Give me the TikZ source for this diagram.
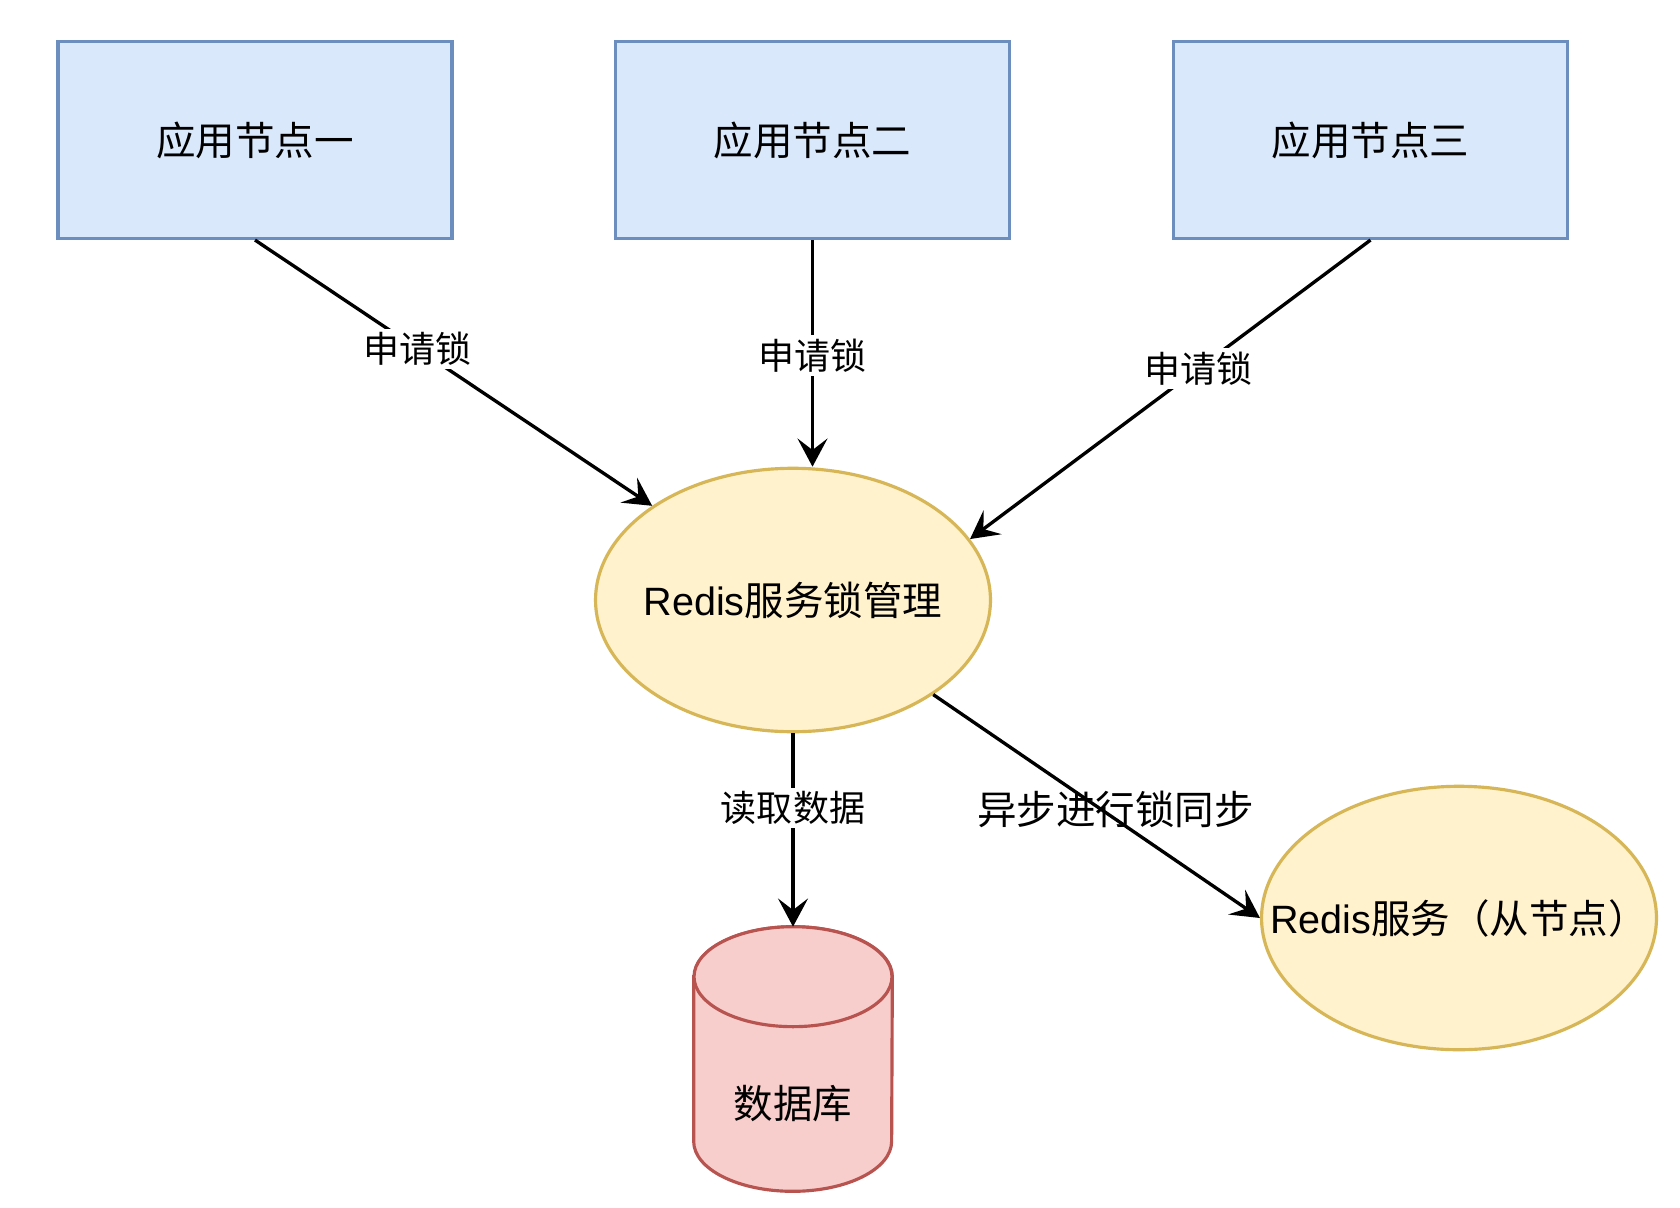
\documentclass[tikz,border=0pt]{standalone}
\usepackage{fontspec}
\setmainfont{Liberation Sans}
\newfontfamily\cjk{Noto Sans CJK SC}
\usetikzlibrary{shapes.geometric,arrows.meta,calc}
\definecolor{boxfill}{HTML}{DAE8FC}
\definecolor{boxblue}{HTML}{6C8EBF}
\definecolor{yfill}{HTML}{FFF2CC}
\definecolor{ystroke}{HTML}{D6B656}
\definecolor{rfill}{HTML}{F8CECC}
\definecolor{rstroke}{HTML}{B85450}
\newcommand\fsbig{\fontsize{22.5}{27}\selectfont}
\newcommand\fssmall{\fontsize{20.5}{24}\selectfont}
\begin{document}
\begin{tikzpicture}[x=0.02cm,y=-0.02cm,
  appbox/.style={draw=boxblue, fill=boxfill, line width=1.8pt, minimum width=7.88cm, minimum height=3.94cm, inner sep=0pt, font=\cjk\fsbig},
  redis/.style={ellipse, draw=ystroke, fill=yfill, line width=1.8pt, minimum width=7.9cm, minimum height=5.27cm, inner sep=0pt},
  dbshape/.style={draw=rstroke, fill=rfill, line width=1.8pt},
  conn/.style={line width=1.9pt, -{Stealth[length=16pt,width=17pt,inset=6.5pt]}},
  elabel/.style={fill=white, inner sep=2pt, font=\cjk\fssmall},
  syncl/.style={inner sep=0pt, font=\cjk\fsbig},
]
\fill[white] (0,0) rectangle (1680,1207);
\useasboundingbox (0,0) rectangle (1680,1207);

\node[appbox] (b1) at (255,140) {应用节点一};
\node[appbox] (b2) at (812.5,140) {应用节点二};
\node[appbox] (b3) at (1370.5,140) {应用节点三};

\node[redis, label={[font=\fsbig]center:{Redis{\cjk 服务锁管理}}}] (main) at (793,600) {};
\node[redis, label={[font=\fsbig]center:{Redis{\cjk 服务（从节点）}}}] (slave) at (1459,918) {};

\node[minimum width=3.96cm, minimum height=5.28cm, inner sep=0pt] (db) at (793,1059) {};
\draw[dbshape] ($(db.north west)+(0,50)$) -- ($(db.south west)+(0,-50)$)
  arc[start angle=180, end angle=360, x radius=1.98cm, y radius=1cm]
  -- ($(db.north east)+(0,50)$)
  arc[start angle=0, end angle=180, x radius=1.98cm, y radius=1cm] -- cycle;
\draw[dbshape] ($(db.north)+(0,50)$) ellipse [x radius=1.98cm, y radius=1cm];
\node[font=\cjk\fsbig] (dbtext) at ($(db.center)+(0,45)$) {数据库};

\draw[conn] (b1.south) -- node[elabel, pos=0.41] {申请锁} (main);
\draw[conn] (b2.south) -- node[elabel, pos=0.51] {申请锁} (b2.south |- main.north);
\draw[conn] (b3.south) -- node[elabel, pos=0.43] {申请锁} (main.19);
\draw[conn] (main.south) -- node[elabel, pos=0.385] {读取数据} (db.north);
\draw[conn] (main.-34) -- node[syncl, pos=0.558, yshift=0.2cm] {异步进行锁同步} (slave.west);
\end{tikzpicture}
\end{document}
